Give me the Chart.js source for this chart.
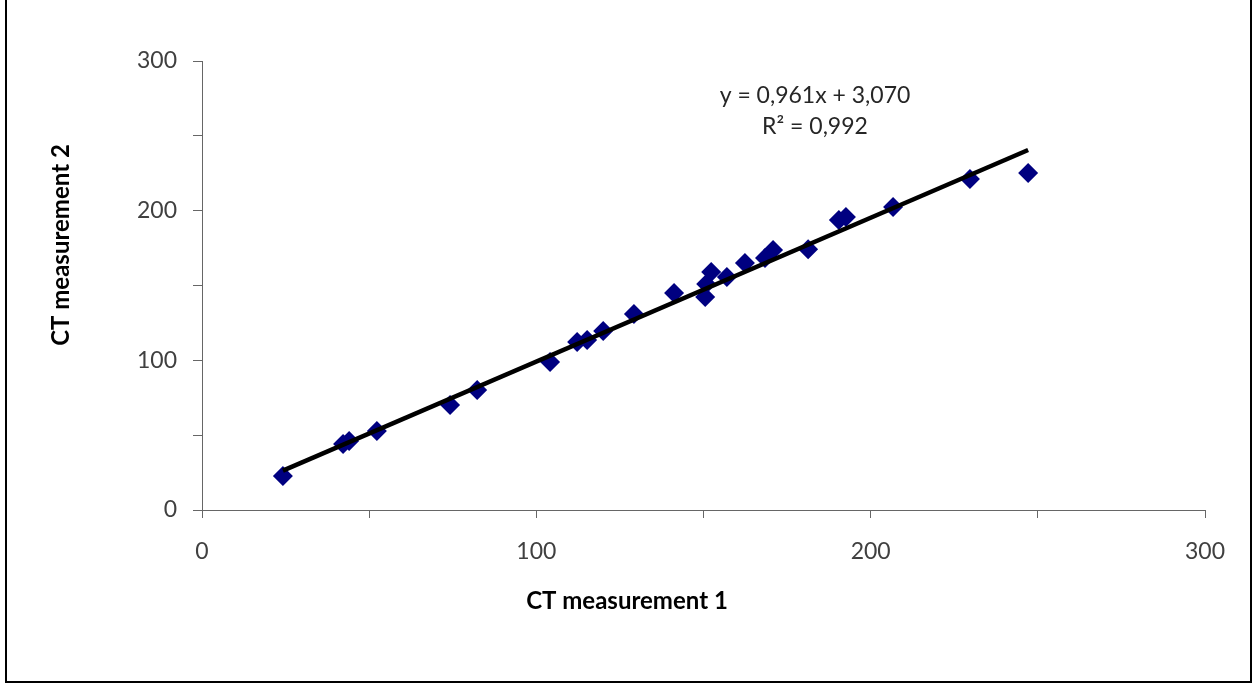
<!DOCTYPE html>
<html>
<head>
<meta charset="utf-8">
<script src="https://cdn.jsdelivr.net/npm/chart.js@4"></script>
<style>
  body { margin: 0; background: #fff; }
  #wrap { position: relative; width: 1259px; height: 683px; overflow: hidden; }
  #frame {
    position: absolute; left: 5px; top: -10px; width: 1243px; height: 689px;
    border: 2px solid #000; pointer-events: none;
  }
</style>
</head>
<body>
<div id="wrap">
  <canvas id="grafica" width="1259" height="683"></canvas>
  <div id="frame"></div>
</div>
<script>
// Datos
const medida1 = [24.2, 42.2, 44.0, 52.3, 74.2, 82.3, 104.1, 112.2, 115.2, 120.0, 129.2, 141.2, 150.5,
  150.8, 152.3, 157.0, 162.4, 168.4, 170.8, 181.3, 190.5, 192.6, 206.7, 229.7, 247.1];
const medida2 = [22.7, 44.1, 46.1, 52.8, 70.1, 80.2, 98.9, 112.2, 113.6, 119.6, 130.9, 145.0, 142.3,
  151.0, 159.0, 155.6, 165.0, 168.3, 173.7, 174.3, 193.7, 195.7, 202.4, 221.1, 225.1];
// Recta de ajuste
const pendiente = 0.961;
const ordenada = 3.070;
const textoEcuacion = ["y = 0,961x + 3,070", "R² = 0,992"];
const tituloX = "CT measurement 1";
const tituloY = "CT measurement 2";

const puntos = medida1.map((x, i) => ({ x: x, y: medida2[i] }));
const xMin = Math.min(...medida1);
const xMax = Math.max(...medida1);
const recta = [
  { x: xMin, y: pendiente * xMin + ordenada },
  { x: xMax, y: pendiente * xMax + ordenada }
];

Chart.defaults.font.family = "Lato";

// Textos: ecuación y títulos de ejes
const textos = {
  id: "textos",
  afterDatasetsDraw(chart) {
    const { ctx } = chart;
    ctx.save();
    ctx.fillStyle = "#262626";
    ctx.textAlign = "center";
    ctx.textBaseline = "middle";
    ctx.font = "23px Lato";
    ctx.fillText(textoEcuacion[0], 815, 96);
    ctx.fillText(textoEcuacion[1], 815, 127);
    ctx.fillStyle = "#000";
    ctx.font = "bold 24px Lato";
    ctx.fillText(tituloX, 627, 601);
    ctx.translate(61, 245);
    ctx.rotate(-Math.PI / 2);
    ctx.fillText(tituloY, 0, 0);
    ctx.restore();
  }
};

new Chart(document.getElementById("grafica"), {
  type: "scatter",
  data: {
    datasets: [
      {
        type: "line",
        data: recta,
        borderColor: "#000",
        borderWidth: 4.5,
        pointRadius: 0,
        order: 0
      },
      {
        data: puntos,
        pointStyle: "rectRot",
        pointRadius: 10,
        pointHoverRadius: 10,
        backgroundColor: "#000080",
        borderColor: "#000080",
        borderWidth: 0,
        order: 1
      }
    ]
  },
  options: {
    responsive: false,
    animation: false,
    layout: { padding: { left: 0, top: 61, right: 54, bottom: 0 } },
    plugins: { legend: { display: false }, tooltip: { enabled: false } },
    scales: {
      x: {
        type: "linear",
        min: 0,
        max: 300,
        afterFit: (s) => { s.height = 173; },
        ticks: {
          stepSize: 50,
          color: "#404040",
          font: { size: 23 },
          padding: 20,
          maxRotation: 0,
          callback: (v) => (v % 100 === 0 ? v : "")
        },
        grid: { drawOnChartArea: false, tickLength: 8, tickColor: "#666" },
        border: { color: "#666", width: 1 }
      },
      y: {
        type: "linear",
        min: 0,
        max: 300,
        afterFit: (s) => { s.width = 202; },
        ticks: {
          stepSize: 50,
          color: "#404040",
          font: { size: 23 },
          padding: 16,
          callback: (v) => (v % 100 === 0 ? v : "")
        },
        grid: { drawOnChartArea: false, tickLength: 9, tickColor: "#666" },
        border: { color: "#666", width: 1 }
      }
    }
  },
  plugins: [textos]
});
</script>
</body>
</html>
